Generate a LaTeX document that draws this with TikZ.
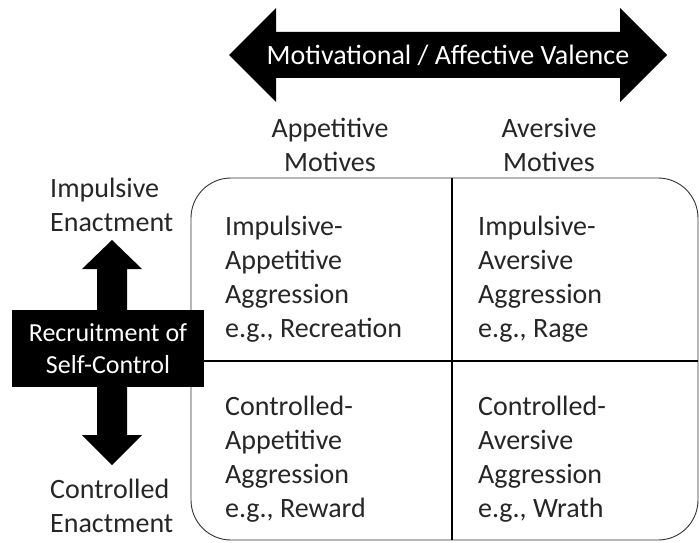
\documentclass[tikz,border=0pt]{standalone}
\usepackage{fontspec}
\setmainfont{Carlito}
\begin{document}
\begin{tikzpicture}[x=1pt, y=1pt,
  every node/.style={font=\fontsize{28}{34}\selectfont, inner sep=0pt, text=black!85},
  cell/.style={align=left, anchor=west},
  head/.style={align=center},
  fatarrow/.style={fill=black, draw=none}]
\useasboundingbox (0,0) rectangle (699,542);
% valence arrow across the top
\fill[fatarrow] (229,487) -- (276,534) -- (276,510) -- (620,510) -- (620,534) -- (667,487)
  -- (620,440) -- (620,464) -- (276,464) -- (276,440) -- cycle;
\node[text=white] (valence) at (448,487) {Motivational / Affective Valence};
\node[head] (appet) at (330,397) {Appetitive\\Motives};
\node[head] (avers) at (549,397) {Aversive\\Motives};
% enactment arrow on the left
\fill[fatarrow] (112,302) -- (142,273) -- (127,273) -- (127,107) -- (142,107) -- (112,77)
  -- (82,107) -- (97,107) -- (97,273) -- (82,273) -- cycle;
\node[cell] (impul) at (50,337) {Impulsive\\Enactment};
\node[cell] (contr) at (50,36) {Controlled\\Enactment};
% the grid
\draw[black!80, line width=0.9pt, rounded corners=40] (191,364) rectangle (698,2);
\draw[black, line width=1.6pt] (452,364) -- (452,2);
\draw[black, line width=1.6pt] (150,181) -- (698,181);
\node[fill=black, text=white, align=center, minimum width=192, minimum height=77,
  font=\fontsize{26}{32}\selectfont] (selfctl) at (108,193.5) {Recruitment of\\Self-Control};
\node[cell] (ia) at (225,263) {Impulsive-\\Appetitive\\Aggression\\e.g., Recreation};
\node[cell] (iv) at (478,263) {Impulsive-\\Aversive\\Aggression\\e.g., Rage};
\node[cell] (ca) at (225,83) {Controlled-\\Appetitive\\Aggression\\e.g., Reward};
\node[cell] (cv) at (478,83) {Controlled-\\Aversive\\Aggression\\e.g., Wrath};
\end{tikzpicture}
\end{document}
